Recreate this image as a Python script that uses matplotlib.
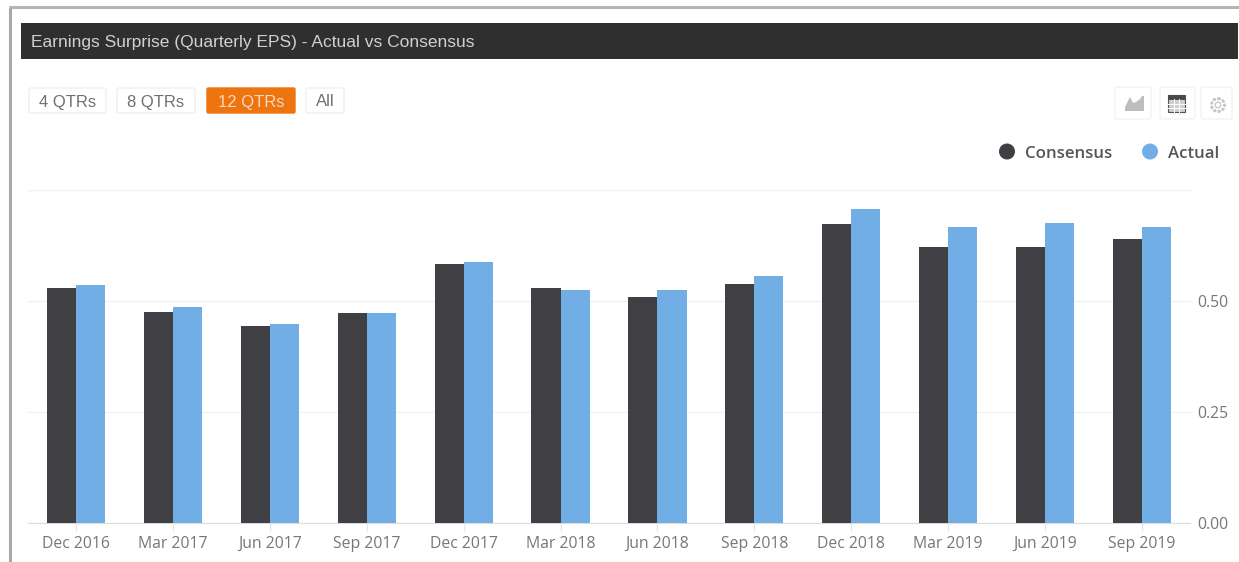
import numpy as np
import matplotlib
matplotlib.use("Agg")
import matplotlib.pyplot as plt
from matplotlib.patches import Rectangle, FancyBboxPatch, Polygon, Circle

W, H = 1239, 562

title = "Earnings Surprise (Quarterly EPS) - Actual vs Consensus"
quarters = ["Dec 2016", "Mar 2017", "Jun 2017", "Sep 2017", "Dec 2017", "Mar 2018",
            "Jun 2018", "Sep 2018", "Dec 2018", "Mar 2019", "Jun 2019", "Sep 2019"]
consensus = [0.529, 0.475, 0.444, 0.473, 0.583, 0.529, 0.509, 0.538, 0.673, 0.622, 0.622, 0.640]
actual = [0.536, 0.486, 0.448, 0.473, 0.588, 0.525, 0.525, 0.556, 0.707, 0.667, 0.676, 0.667]
y_ticks = [0.00, 0.25, 0.50, 0.75]
y_tick_labels = ["0.00", "0.25", "0.50", ""]
range_buttons = ["4 QTRs", "8 QTRs", "12 QTRs", "All"]
series_names = ["Consensus", "Actual"]

DARK = "#3f3f44"
BLUE = "#71aee6"
GRID = "#f0f0f0"
TXT = "#777777"

fig = plt.figure(figsize=(W / 100, H / 100), dpi=100, facecolor="white")

# Page furniture in pixel coordinates
bg = fig.add_axes([0, 0, 1, 1], zorder=0)
bg.set_xlim(0, W)
bg.set_ylim(H, 0)
bg.axis("off")

bg.plot([9.5, 9.5], [H, 7], color="#a8a8a8", lw=2.2, solid_capstyle="butt")
bg.plot([9, W], [7, 7], color="#b4b4b4", lw=2.2, solid_capstyle="butt")
bg.add_patch(Rectangle((21, 23), 1217, 36, fc="#2f2f2f", ec="none"))
bg.text(31, 41, title, color="#d0d0d0", fontsize=12.5, family="Liberation Sans",
        va="center_baseline", ha="left")

btn_x = [[29, 106], [117, 195], [207, 295], [306, 344]]
for name, (x0, x1) in zip(range_buttons, btn_x):
    active = name == "12 QTRs"
    bg.add_patch(FancyBboxPatch((x0, 88), x1 - x0, 25, boxstyle="round,pad=0,rounding_size=1.5",
                                fc="#ee7410" if active else "white",
                                ec="#ee7410" if active else "#f0f0f0", lw=1))
    bg.text((x0 + x1) / 2, 100.5, name, color="#f7d9bf" if active else "#707070",
            fontsize=12.0, family="Liberation Sans", ha="center", va="center_baseline")

# Toolbar icons
for x0, x1 in [(1115, 1151), (1160, 1195), (1201, 1232)]:
    bg.add_patch(FancyBboxPatch((x0, 87), x1 - x0, 32, boxstyle="round,pad=0,rounding_size=2",
                                fc="white", ec="#f3f3f3", lw=1))
bg.add_patch(Polygon([(1125, 111), (1125, 107), (1130, 97), (1133, 103), (1136, 102),
                      (1140, 99), (1142, 96), (1144, 96), (1144, 111)], fc="#bdbdbd", ec="none"))
bg.add_patch(Rectangle((1168, 95), 17, 17, fc="#cfcfcf", ec="#555555", lw=0.8))
bg.add_patch(Rectangle((1168, 95), 17, 4.5, fc="#4a4a4a", ec="none"))
for gx in (1173.7, 1179.4):
    bg.plot([gx, gx], [99, 112], color="white", lw=0.7)
for gy in (103.5, 107.7):
    bg.plot([1168, 1185], [gy, gy], color="white", lw=0.7)
bg.add_patch(Circle((1218, 105), 6.5, fc="none", ec="#c4c4c4", lw=2, ls=(0, (1.1, 0.5))))
bg.add_patch(Circle((1218, 105), 2.8, fc="none", ec="#c8c8c8", lw=1))

# Legend
bg.add_patch(Circle((1007, 151.5), 8, fc=DARK, ec="none"))
bg.text(1025, 152, series_names[0], color="#55555b", fontsize=12.1, family="Open Sans",
        fontweight="semibold", va="center_baseline", ha="left")
bg.add_patch(Circle((1150, 151.5), 8, fc=BLUE, ec="none"))
bg.text(1168, 152, series_names[1], color="#55555b", fontsize=12.1, family="Open Sans",
        fontweight="semibold", va="center_baseline", ha="left")

# Chart: bottom at y=523 px, 0.75 at y=190 px, first band starts x=27.5
ax_left, ax_right, ax_top, ax_bottom = 27.5, 1190.5, 190.0, 523.0
ax = fig.add_axes([ax_left / W, 1 - ax_bottom / H, (ax_right - ax_left) / W,
                   (ax_bottom - ax_top) / H], zorder=1)
ax.patch.set_alpha(0)
x = np.arange(len(quarters))
bw = 0.3
ax.bar(x - bw / 2, consensus, bw, color=DARK, zorder=3, linewidth=0)
ax.bar(x + bw / 2, actual, bw, color=BLUE, zorder=3, linewidth=0)

ax.set_xlim(-0.5, len(quarters) - 0.5)
ax.set_ylim(0, 0.75)
ax.set_xticks(x)
ax.set_xticklabels(quarters, family="Open Sans", fontsize=11.3, color=TXT)
ax.set_yticks(y_ticks)
ax.set_yticklabels(y_tick_labels, family="Open Sans", fontsize=11.3, color=TXT)
ax.yaxis.tick_right()
ax.tick_params(axis="x", length=6, color="#e8e8e8", width=1, pad=3)
ax.tick_params(axis="y", length=0, pad=4.5)
ax.grid(axis="y", color=GRID, lw=1, zorder=0)
for s in ("top", "left", "right"):
    ax.spines[s].set_visible(False)
ax.spines["bottom"].set_color("#dcdcdc")

fig.savefig("out.png", dpi=100, facecolor="white")
